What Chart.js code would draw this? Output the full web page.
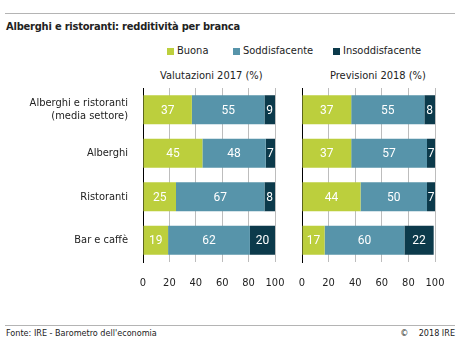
<!DOCTYPE html>
<html>
<head>
<meta charset="utf-8">
<script src="https://cdn.jsdelivr.net/npm/chart.js@4.4.1/dist/chart.umd.min.js"></script>
<style>
  body { margin: 0; background: #fff; }
  #wrap { position: relative; width: 460px; height: 340px; font-family: "DejaVu Sans Condensed", sans-serif; color: #222; }
  .rule { position: absolute; left: 5px; width: 450px; height: 1px; background: #b4b4b4; }
  .txt { position: absolute; white-space: nowrap; font-size: 11px; }
  .sw { position: absolute; width: 7px; height: 7px; }
  canvas { position: absolute; }
</style>
</head>
<body>
<div id="wrap">
  <div class="rule" style="top:13px"></div>
  <div class="txt" style="left:6px; top:20px; font-weight:bold; font-size:11px; letter-spacing:-0.2px">Alberghi e ristoranti: redditività per branca</div>
  <div id="legend"></div>
  <div class="txt" style="left:160px; top:69px">Valutazioni 2017 (%)</div>
  <div class="txt" style="left:330px; top:69px">Previsioni 2018 (%)</div>
  <canvas id="chart2017" style="left:0; top:80px" width="290" height="210"></canvas>
  <canvas id="chart2018" style="left:290px; top:80px" width="160" height="210"></canvas>
  <div class="rule" style="top:325px"></div>
  <div class="txt" style="left:6px; top:328px; font-size:9px">Fonte: IRE - Barometro dell'economia</div>
  <div class="txt" style="right:5px; top:328px; font-size:9px">©&nbsp;&nbsp;&nbsp;&nbsp;2018 IRE</div>
</div>
<script>
// categorie e serie (valori in %)
var categories = [['Alberghi e ristoranti', '(media settore)'], 'Alberghi', 'Ristoranti', 'Bar e caffè'];
var seriesNames = ['Buona', 'Soddisfacente', 'Insoddisfacente'];
var seriesColors = ['#bccf3d', '#5794aa', '#0c3a4b'];

var buona2017 = [37, 45, 25, 19];
var soddisf2017 = [55, 48, 67, 62];
var insoddisf2017 = [9, 7, 8, 20];

var buona2018 = [37, 37, 44, 17];
var soddisf2018 = [55, 57, 50, 60];
var insoddisf2018 = [8, 7, 7, 22];

var xTicks = [0, 20, 40, 60, 80, 100];

var axisFont = { family: 'DejaVu Sans Condensed, sans-serif', size: 11 };

// legenda html, una voce per serie
var legendX = [167, 233, 333];
var legendHtml = '';
seriesNames.forEach(function (name, i) {
  legendHtml += '<span class="sw" style="left:' + legendX[i] + 'px; top:48px; background:' + seriesColors[i] + '"></span>';
  legendHtml += '<span class="txt" style="left:' + (legendX[i] + 10) + 'px; top:44px">' + name + '</span>';
});
document.getElementById('legend').innerHTML = legendHtml;

// etichette bianche dentro le barre
var valueLabels = {
  id: 'valueLabels',
  afterDatasetsDraw: function (chart) {
    var ctx = chart.ctx;
    ctx.save();
    ctx.font = '12px Roboto';
    ctx.fillStyle = '#fff';
    ctx.textAlign = 'center';
    ctx.textBaseline = 'middle';
    chart.data.datasets.forEach(function (ds, di) {
      chart.getDatasetMeta(di).data.forEach(function (bar, i) {
        var right = Math.min(bar.x, chart.chartArea.right);
        var cx = (bar.base + right) / 2;
        ctx.fillText(String(ds.data[i]), cx, bar.y + 1);
      });
    });
    ctx.restore();
  }
};

// niente padding automatico per le etichette: l'area resta dove la vogliamo
function noPad(scale) {
  scale.paddingLeft = 0;
  scale.paddingRight = 0;
  scale.paddingTop = 0;
  scale.paddingBottom = 0;
}

function makeChart(id, values, showLabels, yWidth) {
  return new Chart(document.getElementById(id), {
    type: 'bar',
    data: {
      labels: categories,
      datasets: values.map(function (v, i) {
        return {
          label: seriesNames[i],
          data: v,
          backgroundColor: seriesColors[i],
          barPercentage: 1,
          categoryPercentage: 0.667
        };
      })
    },
    options: {
      indexAxis: 'y',
      responsive: false,
      animation: false,
      layout: { padding: { top: 8, right: 15, bottom: 0, left: 0 } },
      plugins: { legend: { display: false }, tooltip: { enabled: false } },
      scales: {
        x: {
          stacked: true,
          min: 0,
          max: 100,
          afterBuildTicks: function (scale) {
            scale.ticks = xTicks.map(function (t) { return { value: t }; });
          },
          afterFit: function (scale) { scale.height = 28; noPad(scale); },
          grid: {
            drawTicks: false,
            color: function (c) { return c.tick && c.tick.value === 0 ? 'rgba(0,0,0,0)' : '#bdbdbd'; }
          },
          border: { display: false },
          ticks: {
            padding: 15,
            maxRotation: 0,
            minRotation: 0,
            autoSkip: false,
            color: '#222',
            font: axisFont
          }
        },
        y: {
          stacked: true,
          afterFit: function (scale) { scale.width = yWidth; noPad(scale); },
          grid: { display: false, drawTicks: false },
          border: { display: true, color: '#000', width: 1 },
          ticks: {
            display: showLabels,
            padding: 15,
            color: '#222',
            font: axisFont
          }
        }
      }
    },
    plugins: [valueLabels]
  });
}

makeChart('chart2017', [buona2017, soddisf2017, insoddisf2017], true, 143);
makeChart('chart2018', [buona2018, soddisf2018, insoddisf2018], false, 12);
</script>
</body>
</html>
